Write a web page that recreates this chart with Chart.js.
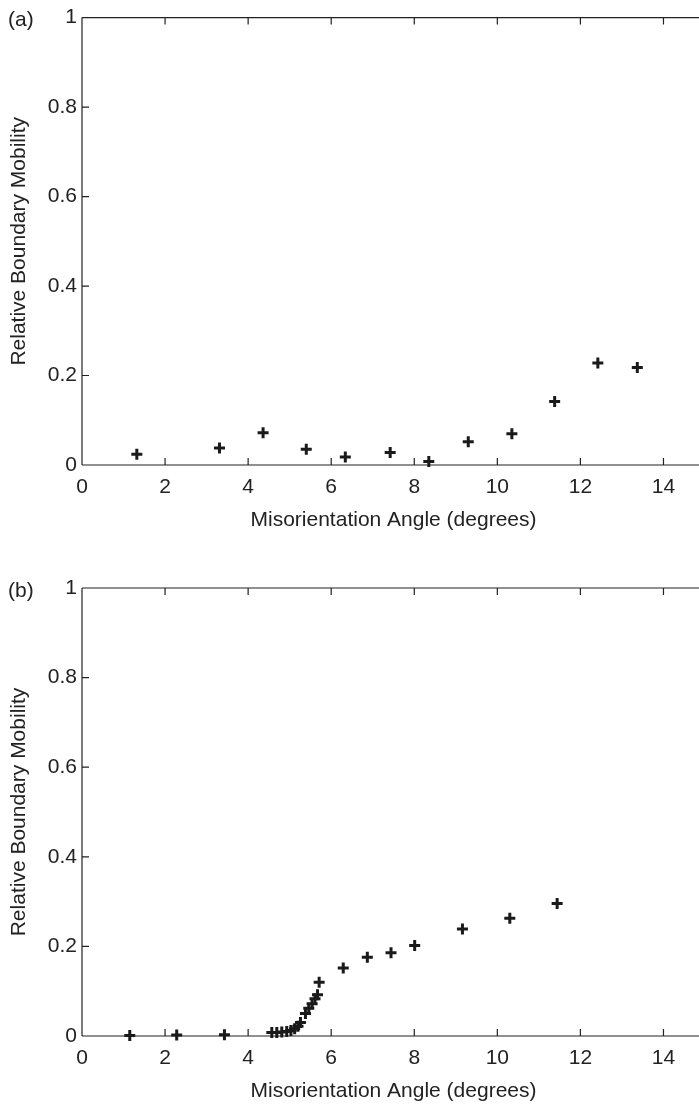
<!DOCTYPE html>
<html><head><meta charset="utf-8">
<script src="https://cdn.jsdelivr.net/npm/chart.js@4/dist/chart.umd.min.js"></script>
<style>
html,body{margin:0;padding:0;background:#fff;overflow:hidden;width:699px;height:1104px;position:relative;}
.wrap{position:absolute;left:0;width:720px;height:552px;}
#wa{top:0}
#wb{top:552px}
.lab{position:absolute;left:8px;font:21px "Liberation Sans",Arial,sans-serif;color:#222;line-height:24px;white-space:nowrap}
</style></head><body>
<div id="wa" class="wrap"><canvas id="ca" width="720" height="552"></canvas></div>
<div id="wb" class="wrap"><canvas id="cb" width="720" height="552"></canvas></div>
<div class="lab" style="top:7px">(a)</div>
<div class="lab" style="top:578px">(b)</div>
<script>
// ---- data ----
const anglesA   = [1.32, 3.31, 4.36, 5.40, 6.34, 7.42, 8.35, 9.30, 10.35, 11.38, 12.42, 13.37];
const mobilityA = [0.024, 0.038, 0.072, 0.035, 0.018, 0.028, 0.008, 0.052, 0.070, 0.142, 0.228, 0.218];

const anglesB   = [1.15, 2.28, 3.43, 4.57, 4.69, 4.81, 4.93, 5.03, 5.12, 5.20, 5.26, 5.38, 5.46, 5.54, 5.61, 5.67, 5.71, 6.29, 6.87, 7.44, 8.01, 9.16, 10.30, 11.44];
const mobilityB = [0.001, 0.002, 0.003, 0.008, 0.008, 0.009, 0.010, 0.012, 0.016, 0.022, 0.030, 0.050, 0.062, 0.072, 0.083, 0.092, 0.120, 0.152, 0.176, 0.186, 0.202, 0.239, 0.263, 0.296];

const xTicks = [0, 2, 4, 6, 8, 10, 12, 14];
const xTickLabels = ['0', '2', '4', '6', '8', '10', '12', '14'];
const yTicks = [0, 0.2, 0.4, 0.6, 0.8, 1];
const yTickLabels = ['0', '0.2', '0.4', '0.6', '0.8', '1'];

const xTitle = 'Misorientation Angle (degrees)';
const yTitle = 'Relative Boundary Mobility';

// ---- styling ----
const FONT = {family: '"Liberation Sans", Arial, sans-serif', size: 21};
const INK = '#222';
const TICKLEN = 7;

const framePlugin = {
  id: 'frame',
  beforeDatasetsDraw(chart) {
    const {ctx, chartArea: {left, right, top, bottom}, scales: {x, y}} = chart;
    ctx.save();
    ctx.strokeStyle = INK;
    ctx.lineWidth = 1.2;
    ctx.beginPath();
    ctx.moveTo(left, top); ctx.lineTo(right, top);
    ctx.moveTo(left, bottom); ctx.lineTo(right, bottom);
    ctx.moveTo(left, top); ctx.lineTo(left, bottom);
    ctx.moveTo(right, top); ctx.lineTo(right, bottom);
    xTicks.forEach(v => {
      const px = x.getPixelForValue(v);
      ctx.moveTo(px, bottom); ctx.lineTo(px, bottom - TICKLEN);
      ctx.moveTo(px, top); ctx.lineTo(px, top + TICKLEN);
    });
    yTicks.forEach(v => {
      const py = y.getPixelForValue(v);
      ctx.moveTo(left, py); ctx.lineTo(left + TICKLEN, py);
    });
    ctx.stroke();
    ctx.restore();
  }
};

function makeChart(id, xs, ys, padTop, xAxisHeight, xTitlePadBottom) {
  const pts = xs.map((v, i) => ({x: v, y: ys[i]}));
  return new Chart(document.getElementById(id), {
    type: 'scatter',
    data: {datasets: [{
      data: pts,
      pointStyle: 'cross',
      pointRadius: 5.5,
      pointHoverRadius: 5.5,
      pointBorderWidth: 3,
      pointHoverBorderWidth: 3,
      borderColor: '#1a1a1a',
      backgroundColor: '#1a1a1a',
      showLine: false,
      clip: false
    }]},
    options: {
      responsive: false,
      animation: false,
      events: [],
      layout: {padding: {top: padTop, right: 15, left: 0, bottom: 0}},
      plugins: {legend: {display: false}, tooltip: {enabled: false}},
      scales: {
        x: {
          type: 'linear', min: 0, max: 15,
          afterBuildTicks: s => { s.ticks = xTicks.map(v => ({value: v})); },
          afterFit: s => { s.height = xAxisHeight; },
          grid: {display: false, drawTicks: false},
          border: {display: false},
          ticks: {font: FONT, color: INK, padding: 10, autoSkip: false, maxRotation: 0,
                  callback: (v, i) => xTickLabels[i]},
          title: {display: true, text: xTitle, font: FONT, color: INK,
                  padding: {top: 0, bottom: xTitlePadBottom}}
        },
        y: {
          type: 'linear', min: 0, max: 1,
          afterBuildTicks: s => { s.ticks = yTicks.map(v => ({value: v})); },
          afterFit: s => { s.width = 82; },
          grid: {display: false, drawTicks: false},
          border: {display: false},
          ticks: {font: FONT, color: INK, padding: 5, autoSkip: false,
                  callback: (v, i) => yTickLabels[i]},
          title: {display: true, text: yTitle, font: FONT, color: INK,
                  padding: {top: 6.4, bottom: 0}}
        }
      }
    },
    plugins: [framePlugin]
  });
}

makeChart('ca', anglesA, mobilityA, 17, 87, 19.4);
makeChart('cb', anglesB, mobilityB, 36, 68, 0.4);
</script>
</body></html>
